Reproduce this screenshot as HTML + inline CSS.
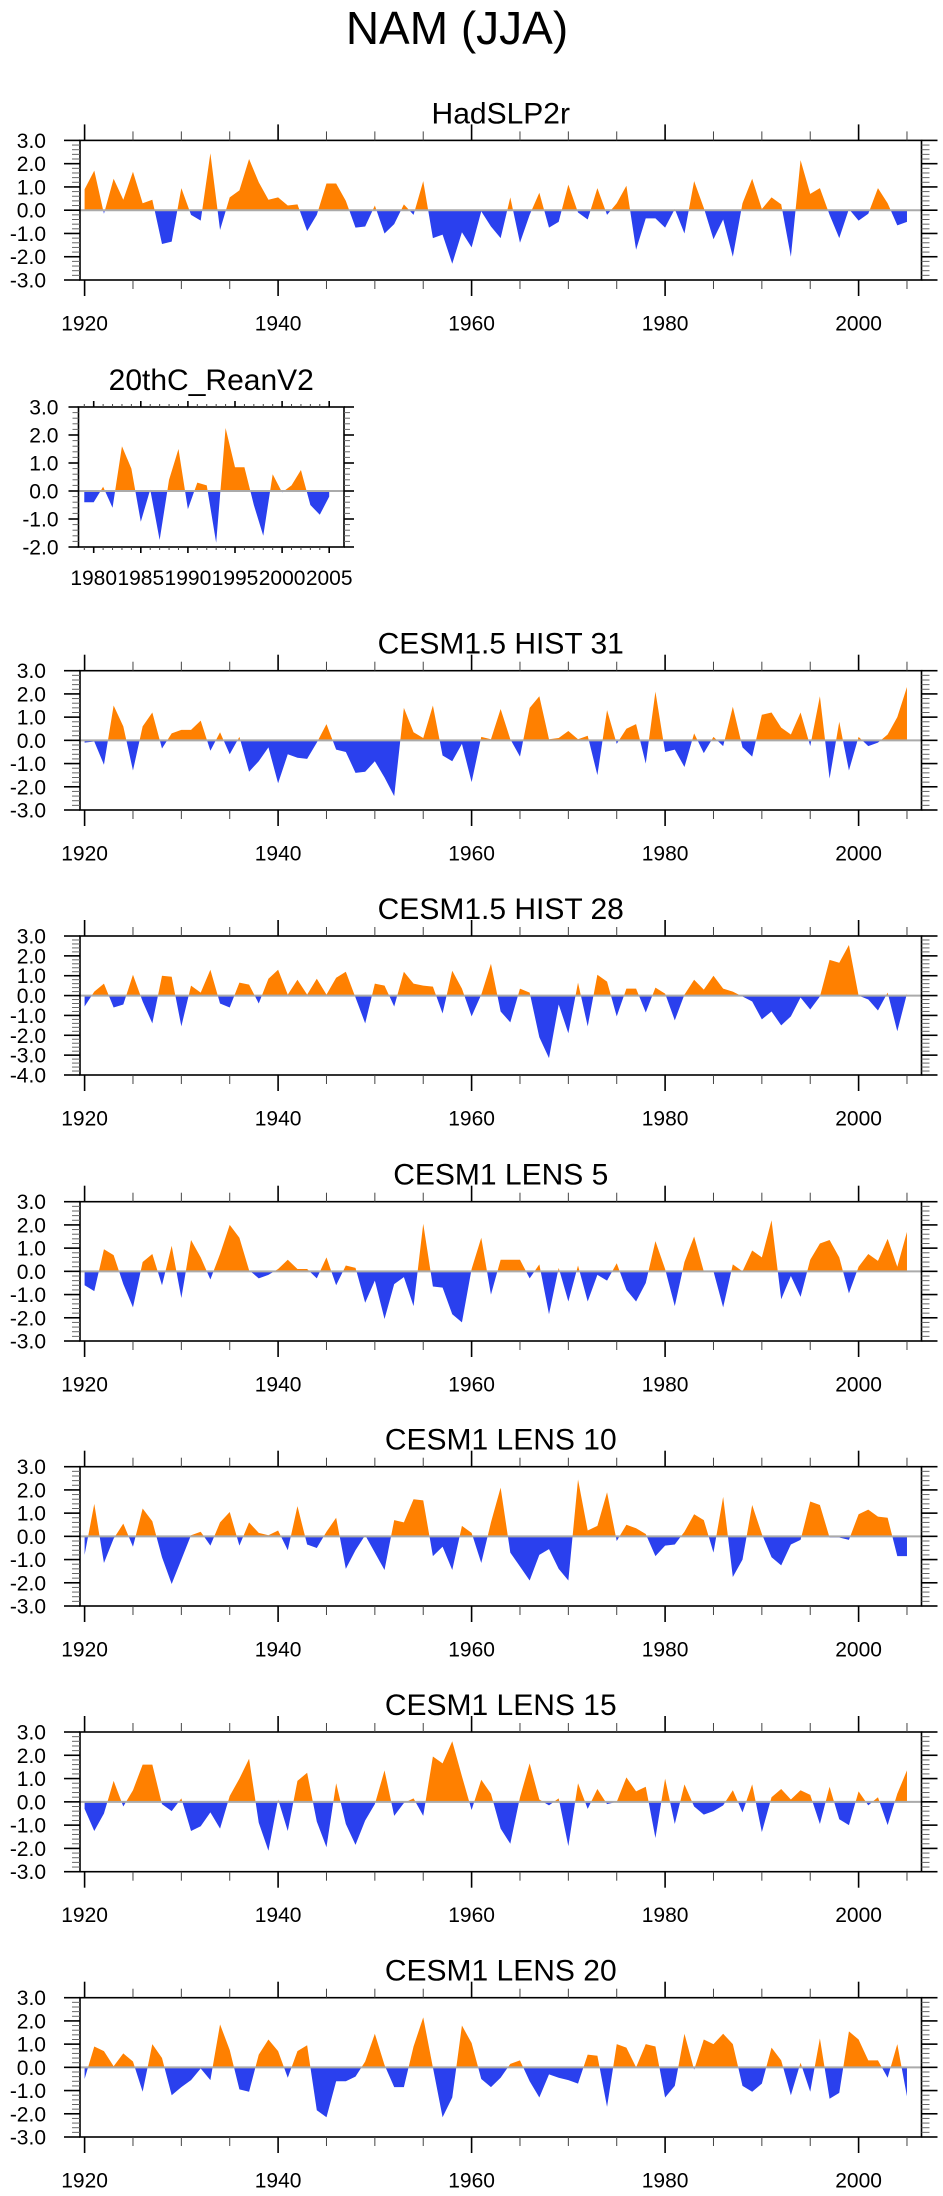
<!DOCTYPE html>
<html><head><meta charset="utf-8"><title>NAM (JJA)</title>
<style>
html,body{margin:0;padding:0;background:#fff;}
svg{display:block;font-family:"Liberation Sans",Arial,sans-serif;}
</style></head>
<body>
<svg id="chart" width="943" height="2196" viewBox="0 0 943 2196" xmlns="http://www.w3.org/2000/svg">
<text x="457" y="44" font-size="46" text-anchor="middle" fill="#000">NAM (JJA)</text>
</svg>
<script>
// ---- data arrays ----
const yearsLong = Array.from({length:86},(_, i)=>1920+i);
const yearsRean = Array.from({length:27},(_, i)=>1979+i);
const hadslp2r = [0.9,1.7,-0.15,1.35,0.45,1.65,0.3,0.45,-1.45,-1.35,0.95,-0.2,-0.45,2.45,-0.85,0.55,0.85,2.2,1.2,0.45,0.55,0.2,0.25,-0.9,-0.2,1.15,1.15,0.4,-0.75,-0.7,0.2,-1.0,-0.6,0.25,-0.2,1.25,-1.2,-1.05,-2.3,-0.95,-1.6,-0.05,-0.7,-1.2,0.55,-1.4,-0.2,0.75,-0.75,-0.5,1.1,-0.1,-0.4,0.95,-0.2,0.3,1.05,-1.7,-0.35,-0.35,-0.75,0.05,-1.0,1.25,0.1,-1.25,-0.4,-2.0,0.3,1.35,0.05,0.55,0.25,-2.0,2.15,0.7,0.95,-0.2,-1.2,0.05,-0.45,-0.15,0.95,0.3,-0.65,-0.5];
const rean20c = [-0.4,-0.4,0.15,-0.6,1.6,0.8,-1.1,0.05,-1.75,0.4,1.5,-0.65,0.3,0.2,-1.85,2.25,0.85,0.85,-0.5,-1.6,0.6,-0.05,0.2,0.75,-0.5,-0.85,-0.2];
const hist31 = [-0.1,-0.05,-1.05,1.5,0.6,-1.3,0.6,1.2,-0.35,0.3,0.45,0.45,0.85,-0.45,0.35,-0.6,0.15,-1.35,-0.9,-0.3,-1.85,-0.6,-0.75,-0.8,-0.1,0.7,-0.4,-0.5,-1.4,-1.35,-0.9,-1.6,-2.4,1.4,0.35,0.1,1.5,-0.65,-0.9,-0.15,-1.8,0.15,0.05,1.35,0.05,-0.7,1.4,1.9,0.05,0.1,0.4,0.05,0.2,-1.5,1.3,-0.15,0.5,0.7,-1.0,2.1,-0.5,-0.4,-1.15,0.3,-0.55,0.15,-0.25,1.45,-0.3,-0.7,1.1,1.2,0.55,0.25,1.2,-0.25,1.9,-1.65,0.8,-1.3,0.15,-0.25,-0.1,0.25,1.0,2.3];
const hist28 = [-0.55,0.2,0.6,-0.6,-0.45,1.05,-0.3,-1.4,1.0,0.95,-1.55,0.5,0.15,1.3,-0.4,-0.6,0.65,0.55,-0.4,0.85,1.3,0.05,0.8,0.05,0.85,0.05,0.9,1.2,-0.1,-1.4,0.6,0.5,-0.55,1.2,0.6,0.5,0.45,-0.9,1.25,0.35,-1.05,0.05,1.6,-0.8,-1.35,0.35,0.15,-2.1,-3.15,-0.45,-1.9,0.65,-1.55,1.05,0.7,-1.05,0.35,0.35,-0.85,0.4,0.1,-1.25,0.05,0.8,0.3,1.0,0.35,0.2,-0.05,-0.3,-1.2,-0.8,-1.5,-1.05,-0.1,-0.7,-0.05,1.8,1.65,2.55,0.0,-0.2,-0.75,0.15,-1.8,0.1];
const lens5 = [-0.6,-0.85,0.95,0.7,-0.55,-1.55,0.4,0.75,-0.6,1.1,-1.15,1.35,0.6,-0.35,0.75,2.0,1.45,0.05,-0.3,-0.15,0.1,0.5,0.1,0.1,-0.3,0.6,-0.6,0.25,0.15,-1.35,-0.4,-2.05,-0.55,-0.25,-1.5,2.05,-0.65,-0.7,-1.85,-2.2,0.1,1.45,-1.0,0.5,0.5,0.5,-0.3,0.3,-1.85,0.15,-1.3,0.25,-1.3,-0.15,-0.4,0.35,-0.8,-1.3,-0.5,1.3,0.1,-1.5,0.4,1.5,0.0,0.0,-1.55,0.3,0.0,0.9,0.6,2.2,-1.2,-0.2,-1.1,0.5,1.2,1.35,0.6,-0.95,0.2,0.75,0.45,1.4,0.2,1.7];
const lens10 = [-0.8,1.4,-1.15,-0.1,0.55,-0.45,1.2,0.65,-0.9,-2.05,-1.0,0.05,0.2,-0.4,0.6,1.05,-0.4,0.6,0.15,0.05,0.25,-0.6,1.3,-0.35,-0.5,0.2,0.8,-1.4,-0.6,0.05,-0.7,-1.45,0.7,0.6,1.6,1.55,-0.85,-0.45,-1.45,0.45,0.15,-1.15,0.6,2.1,-0.7,-1.3,-1.9,-0.8,-0.55,-1.4,-1.9,2.45,0.25,0.45,1.9,-0.2,0.5,0.35,0.1,-0.85,-0.4,-0.35,0.2,0.95,0.7,-0.7,1.7,-1.75,-1.0,1.35,0.1,-0.9,-1.25,-0.35,-0.15,1.5,1.35,-0.05,-0.05,-0.15,0.95,1.15,0.85,0.8,-0.85,-0.85];
const lens15 = [-0.3,-1.25,-0.5,0.9,-0.2,0.5,1.6,1.6,-0.1,-0.4,0.15,-1.25,-1.05,-0.45,-1.15,0.25,1.0,1.85,-0.9,-2.1,0.1,-1.25,0.9,1.25,-0.85,-1.95,0.8,-0.95,-1.85,-0.8,-0.1,1.35,-0.6,-0.05,0.15,-0.6,1.95,1.65,2.6,1.1,-0.35,0.95,0.35,-1.15,-1.8,0.2,1.65,0.1,-0.15,0.15,-1.9,0.8,-0.3,0.55,-0.1,0.0,1.05,0.45,0.65,-1.55,1.0,-0.95,0.75,-0.2,-0.55,-0.4,-0.15,0.5,-0.45,0.75,-1.3,0.2,0.55,0.1,0.5,0.3,-0.95,0.65,-0.75,-1.0,0.45,-0.15,0.2,-1.0,0.35,1.35];
const lens20 = [-0.5,0.9,0.7,0.05,0.6,0.25,-1.05,1.0,0.4,-1.2,-0.85,-0.55,-0.05,-0.55,1.85,0.75,-0.95,-1.05,0.55,1.2,0.7,-0.45,0.7,0.95,-1.85,-2.15,-0.6,-0.6,-0.4,0.25,1.45,0.1,-0.85,-0.85,0.9,2.15,0.0,-2.15,-1.3,1.8,1.05,-0.5,-0.85,-0.45,0.15,0.3,-0.6,-1.3,-0.3,-0.45,-0.55,-0.7,0.55,0.5,-1.7,1.0,0.85,0.0,1.0,0.9,-1.3,-0.8,1.45,-0.1,1.2,1.0,1.45,1.0,-0.8,-1.05,-0.7,0.85,0.3,-1.2,0.2,-1.05,1.25,-1.35,-1.1,1.55,1.2,0.3,0.3,-0.45,1.0,-1.25];
const longYearTicks = [1920,1940,1960,1980,2000];
const reanYearTicks = [1980,1985,1990,1995,2000,2005];

const NS='http://www.w3.org/2000/svg';
const svg=document.getElementById('chart');
function mk(tag,attrs,parent){const e=document.createElementNS(NS,tag);for(const k in attrs)e.setAttribute(k,attrs[k]);(parent||svg).appendChild(e);return e;}

const panels=[
 {title:'HadSLP2r',name:'hadslp2r',years:yearsLong,vals:hadslp2r,top:140.4,bot:280,ymin:-3,ymax:3,bx0:80,bx1:921.5,ref:1920,refX:84.6,pxYr:9.675,ticks:longYearTicks,minorStep:5,small:false},
 {title:'20thC_ReanV2',name:'20thc-reanv2',years:yearsRean,vals:rean20c,top:407,bot:547,ymin:-2,ymax:3,bx0:78.5,bx1:344,ref:1980,refX:93.7,pxYr:9.42,ticks:reanYearTicks,minorStep:1,small:true},
 {title:'CESM1.5 HIST 31',name:'cesm15-hist31',years:yearsLong,vals:hist31,top:670.7,bot:810,ymin:-3,ymax:3,bx0:80,bx1:921.5,ref:1920,refX:84.6,pxYr:9.675,ticks:longYearTicks,minorStep:5,small:false},
 {title:'CESM1.5 HIST 28',name:'cesm15-hist28',years:yearsLong,vals:hist28,top:936,bot:1075,ymin:-4,ymax:3,bx0:80,bx1:921.5,ref:1920,refX:84.6,pxYr:9.675,ticks:longYearTicks,minorStep:5,small:false},
 {title:'CESM1 LENS 5',name:'cesm1-lens5',years:yearsLong,vals:lens5,top:1201.7,bot:1341,ymin:-3,ymax:3,bx0:80,bx1:921.5,ref:1920,refX:84.6,pxYr:9.675,ticks:longYearTicks,minorStep:5,small:false},
 {title:'CESM1 LENS 10',name:'cesm1-lens10',years:yearsLong,vals:lens10,top:1466.7,bot:1606,ymin:-3,ymax:3,bx0:80,bx1:921.5,ref:1920,refX:84.6,pxYr:9.675,ticks:longYearTicks,minorStep:5,small:false},
 {title:'CESM1 LENS 15',name:'cesm1-lens15',years:yearsLong,vals:lens15,top:1732,bot:1871.7,ymin:-3,ymax:3,bx0:80,bx1:921.5,ref:1920,refX:84.6,pxYr:9.675,ticks:longYearTicks,minorStep:5,small:false},
 {title:'CESM1 LENS 20',name:'cesm1-lens20',years:yearsLong,vals:lens20,top:1997.7,bot:2137,ymin:-3,ymax:3,bx0:80,bx1:921.5,ref:1920,refX:84.6,pxYr:9.675,ticks:longYearTicks,minorStep:5,small:false}
];

panels.forEach((p,pi)=>{
  const g=mk('g',{});
  
  
  const xS=y=>p.refX+(y-p.ref)*p.pxYr;
  const yS=v=>p.bot-(v-p.ymin)/(p.ymax-p.ymin)*(p.bot-p.top);
  const y0=yS(0);
  const t=mk('text',{x:(p.bx0+p.bx1)/2,y:p.top-17,'font-size':30,'text-anchor':'middle'},g);
  
  
  t.textContent=p.title;
  const defs=mk('defs',{},g);
  const ca=mk('clipPath',{id:'ca'+pi},defs); mk('rect',{x:p.bx0,y:p.top,width:p.bx1-p.bx0,height:y0-p.top},ca);
  const cb=mk('clipPath',{id:'cb'+pi},defs); mk('rect',{x:p.bx0,y:y0,width:p.bx1-p.bx0,height:p.bot-y0},cb);
  let d='M'+xS(p.years[0]).toFixed(2)+','+y0.toFixed(2);
  p.years.forEach((yr,i)=>{d+=' L'+xS(yr).toFixed(2)+','+yS(p.vals[i]).toFixed(2);});
  d+=' L'+xS(p.years[p.years.length-1]).toFixed(2)+','+y0.toFixed(2)+' Z';
  const pa=mk('path',{d:d,fill:'#ff8000','clip-path':'url(#ca'+pi+')'},g);
  
  
  const pb=mk('path',{d:d,fill:'#2a40ee','clip-path':'url(#cb'+pi+')'},g);
  
  
  const zl=mk('line',{x1:p.bx0,x2:p.bx1,y1:y0,y2:y0,stroke:'#aaaaaa','stroke-width':2},g);
  
  
  const bx=mk('rect',{x:p.bx0,y:p.top,width:p.bx1-p.bx0,height:p.bot-p.top,fill:'none',stroke:'#000','stroke-width':1.6},g);
  
  
  const majL=p.small?6:16, minL=p.small?3:9;
  const yStart=p.years[0], yEnd=p.years[p.years.length-1];
  for(let yr=Math.ceil(yStart/p.minorStep)*p.minorStep; yr<=yEnd; yr+=p.minorStep){
    const isMaj=p.ticks.includes(yr); const L=isMaj?majL:minL; const x=xS(yr);
    mk('line',{x1:x,x2:x,y1:p.top,y2:p.top-L,stroke:isMaj?'#000':'#444','stroke-width':isMaj?1.6:1},g);
    mk('line',{x1:x,x2:x,y1:p.bot,y2:p.bot+L,stroke:isMaj?'#000':'#444','stroke-width':isMaj?1.6:1},g);
  }
  p.ticks.forEach(yr=>{
    const tl=mk('text',{x:xS(yr),y:p.bot+(p.small?38:50.5),'font-size':21,'text-anchor':'middle'},g);
    
    
    tl.textContent=yr;
  });
  const yMaj=p.small?10:16, yMin=p.small?6:8;
  for(let k=Math.round(p.ymin*5); k<=Math.round(p.ymax*5); k++){
    const v=k/5; const isMaj=(k%5===0); const y=yS(v); const L=isMaj?yMaj:yMin;
    mk('line',{x1:p.bx0,x2:p.bx0-L,y1:y,y2:y,stroke:isMaj?'#000':'#666','stroke-width':isMaj?1.6:1},g);
    mk('line',{x1:p.bx1,x2:p.bx1+L,y1:y,y2:y,stroke:isMaj?'#000':'#666','stroke-width':isMaj?1.6:1},g);
    if(isMaj){
      const yl=mk('text',{x:p.small?58.5:46,y:y+7.5,'font-size':21,'text-anchor':'end'},g);
      
      
      yl.textContent=v.toFixed(1);
    }
  }
});
</script>
</body></html>
